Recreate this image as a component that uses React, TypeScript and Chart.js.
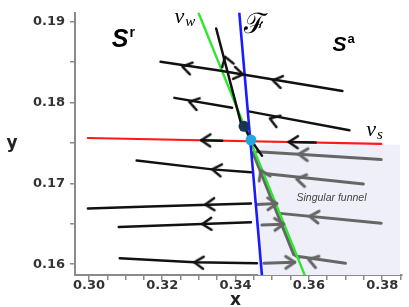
import React, { useEffect, useRef } from "react";
import { Chart, registerables } from "chart.js";

Chart.register(...registerables);

type P = [number, number];

// ---- axes ----
const xRange: P = [0.2962, 0.3854];
const yRange: P = [0.15867, 0.19109];
const tickStep = 0.005;
const xTickLabels = ["0.30", "0.32", "0.34", "0.36", "0.38"];
const yTickLabels = ["0.16", "0.17", "0.18", "0.19"];
const xTitle = "x";
const yTitle = "y";

// ---- nullclines / fold ----
const vsCurve: P[] = [[0.2997, 0.17561], [0.37973, 0.17488]];
const vwCurve: P[] = [[0.32956, 0.19145], [0.35885, 0.15867]];
const foldCurve: P[] = [[0.34095, 0.19145], [0.34719, 0.15867]];

// ---- singular funnel region ----
const funnelRegion: P[] = [[0.3461, 0.17476], [0.38488, 0.17476]];

// ---- black trajectories ----
const blackUp: P[] = [[0.33471, 0.18915], [0.34149, 0.17742], [0.34231, 0.17706], [0.3442, 0.17536], [0.34719, 0.17343]];
const traj1: P[] = [[0.31953, 0.18504], [0.33553, 0.18395], [0.34203, 0.18347], [0.36915, 0.18141]];
const traj2a: P[] = [[0.32332, 0.18057], [0.33905, 0.17936]];
const traj2b: P[] = [[0.34393, 0.17887], [0.37105, 0.17657]];
const traj3: P[] = [[0.31302, 0.17282], [0.33363, 0.17173], [0.3442, 0.17137]];
const traj4: P[] = [[0.29973, 0.1669], [0.31654, 0.16714], [0.3442, 0.1675]];
const traj5: P[] = [[0.30814, 0.1646], [0.3442, 0.1652]];
const traj6: P[] = [[0.30841, 0.16073], [0.32875, 0.16024], [0.34583, 0.16012]];
const vsSeg1: P[] = [[0.33064, 0.17533], [0.33634, 0.17528]];
const vsSeg2: P[] = [[0.35451, 0.17511], [0.36183, 0.17504]];

// ---- grey trajectories (funnel) ----
const funnelPath: P[] = [[0.34475, 0.17379], [0.35586, 0.16121], [0.35722, 0.16085]];
const grey1: P[] = [[0.34583, 0.17391], [0.35722, 0.17361], [0.37973, 0.17294]];
const grey2: P[] = [[0.34719, 0.17125], [0.37485, 0.16992]];
const grey3: P[] = [[0.35207, 0.16629], [0.37973, 0.16508]];
const grey4: P[] = [[0.35722, 0.16097], [0.36997, 0.16012]];
const greyA: P[] = [[0.34583, 0.16738], [0.35125, 0.1675]];
const greyB: P[] = [[0.34719, 0.16484], [0.35315, 0.16496]];
const greyC: P[] = [[0.34773, 0.16012], [0.35614, 0.16024]];

// ---- arrow heads: [x, y, towardX, towardY] ----
const blackArrows: number[][] = [
  [0.32549, 0.18444, 0.31953, 0.18504],
  [0.34203, 0.18347, 0.36915, 0.18141],
  [0.35017, 0.18274, 0.34203, 0.18347],
  [0.32739, 0.18008, 0.32332, 0.18057],
  [0.34936, 0.17802, 0.34393, 0.17887],
  [0.33064, 0.17533, 0.2997, 0.17561],
  [0.35451, 0.17511, 0.2997, 0.17561],
  [0.33363, 0.17173, 0.31302, 0.17282],
  [0.33173, 0.16738, 0.29973, 0.1669],
  [0.33092, 0.16496, 0.30814, 0.1646],
  [0.32875, 0.16024, 0.30841, 0.16073],
  [0.33715, 0.18565, 0.33471, 0.18915],
];
const greyArrows: number[][] = [
  [0.35722, 0.17361, 0.34583, 0.17391],
  [0.35668, 0.17052, 0.34719, 0.17125],
  [0.3602, 0.16593, 0.35207, 0.16629],
  [0.35993, 0.1606, 0.35722, 0.16097],
  [0.34692, 0.17161, 0.34475, 0.17379],
  [0.35125, 0.1675, 0.36, 0.1676],
  [0.35315, 0.16496, 0.36, 0.16505],
  [0.35614, 0.16024, 0.37, 0.1603],
];

// ---- special points ----
const darkPoint: P = [0.34231, 0.17706];
const cyanPoint: P = [0.3442, 0.17536];

// ---- annotations ----
const labelSr: P = [0.30624, 0.18686];
const labelSa: P = [0.36644, 0.18637];
const labelVw: P = [0.32332, 0.18988];
const labelVs: P = [0.37566, 0.17585];
const labelF: P = [0.34231, 0.18855];
const labelFunnel: P = [0.36617, 0.16823];
const funnelText = "Singular funnel";

function makeChevron(color: string, lw: number): HTMLCanvasElement {
  const c = document.createElement("canvas");
  c.width = 26;
  c.height = 26;
  const g = c.getContext("2d")!;
  g.strokeStyle = color;
  g.lineWidth = lw;
  g.lineCap = "round";
  g.lineJoin = "round";
  g.beginPath();
  g.moveTo(4, 7);
  g.lineTo(13, 13);
  g.lineTo(4, 19);
  g.stroke();
  return c;
}

const toXY = (pts: P[]) => pts.map(([x, y]) => ({ x, y }));

function lineSet(pts: P[], color: string, width: number, order: number) {
  return {
    data: toXY(pts),
    showLine: true,
    borderColor: color,
    backgroundColor: color,
    borderWidth: width,
    pointRadius: 0,
    pointHoverRadius: 0,
    fill: false,
    tension: 0,
    borderCapStyle: "round",
    borderJoinStyle: "round",
    order,
  };
}

function arrowSet(arrs: number[][], img: HTMLCanvasElement, order: number) {
  return {
    data: arrs.map((a) => ({ x: a[0], y: a[1] })),
    showLine: false,
    pointStyle: img,
    pointRadius: 6,
    pointHoverRadius: 6,
    rotation: (ctx: any) => {
      const a = arrs[ctx.dataIndex];
      if (!a) return 0;
      const sx = ctx.chart.scales.x;
      const sy = ctx.chart.scales.y;
      const dx = sx.getPixelForValue(a[2]) - sx.getPixelForValue(a[0]);
      const dy = sy.getPixelForValue(a[3]) - sy.getPixelForValue(a[1]);
      return (Math.atan2(dy, dx) * 180) / Math.PI;
    },
    order,
  };
}

const findLabel = (labels: string[], v: number) =>
  labels.find((l) => Math.abs(parseFloat(l) - v) < 1e-6) ?? "";

const textPlugin = {
  id: "texts",
  afterDatasetsDraw(chart: any) {
    const { ctx, chartArea } = chart;
    const sx = chart.scales.x;
    const sy = chart.scales.y;
    const px = (p: P) => [sx.getPixelForValue(p[0]), sy.getPixelForValue(p[1])];
    ctx.save();
    ctx.textBaseline = "alphabetic";
    ctx.textAlign = "left";
    ctx.fillStyle = "#000";

    const sup = (p: P, main: string, s: string, f1: string, f2: string, dy: number) => {
      const [x, y] = px(p);
      ctx.font = f1;
      ctx.fillText(main, x, y);
      const w = ctx.measureText(main).width;
      ctx.font = f2;
      ctx.fillText(s, x + w + 1, y + dy);
    };
    sup(labelSr, "S", "r", 'bold italic 25px "Liberation Sans"', 'bold 14px "Liberation Sans"', -10);
    sup(labelSa, "S", "a", 'bold italic 21px "Liberation Sans"', 'bold 13px "Liberation Sans"', -8);
    sup(labelVw, "v", "w", 'italic 22px "Liberation Serif"', 'italic 15px "Liberation Serif"', 3);
    sup(labelVs, "v", "s", 'italic 22px "Liberation Serif"', 'italic 15px "Liberation Serif"', 3);

    const [fx, fy] = px(labelF);
    ctx.font = '28px "DejaVu Serif"';
    ctx.fillText("\u2131", fx, fy);

    const [tx, ty] = px(labelFunnel);
    ctx.font = 'italic 10.5px "Liberation Sans"';
    ctx.fillStyle = "#444";
    ctx.textAlign = "center";
    ctx.textBaseline = "middle";
    ctx.fillText(funnelText, tx, ty);

    ctx.fillStyle = "#222";
    ctx.font = 'bold 17px "DejaVu Sans"';
    ctx.fillText(yTitle, chartArea.left - 63, (chartArea.top + chartArea.bottom) / 2);
    ctx.fillText(xTitle, (chartArea.left + chartArea.right) / 2 - 3, chartArea.bottom + 26);
    ctx.restore();
  },
};

export default function App() {
  const ref = useRef<HTMLCanvasElement | null>(null);

  useEffect(() => {
    document.body.style.margin = "0";
    const canvas = ref.current;
    if (!canvas) return;
    const blackChev = makeChevron("#111", 2.6);
    const greyChev = makeChevron("#666", 3);

    const black = "#111";
    const grey = "#666";
    const datasets: any[] = [
      {
        data: toXY(funnelRegion),
        showLine: true,
        borderWidth: 0,
        borderColor: "rgba(0,0,0,0)",
        backgroundColor: "#efeffa",
        fill: "start",
        pointRadius: 0,
        order: 100,
      },
      lineSet(vsCurve, "#ff1a1a", 2.2, 90),
      lineSet(funnelPath, grey, 3.2, 80),
      lineSet(grey1, grey, 3, 80),
      lineSet(grey2, grey, 3, 80),
      lineSet(grey3, grey, 3, 80),
      lineSet(grey4, grey, 3, 80),
      lineSet(greyA, grey, 3, 80),
      lineSet(greyB, grey, 3, 80),
      lineSet(greyC, grey, 3, 80),
      lineSet(vwCurve, "#2ee82e", 2.4, 70),
      lineSet(foldCurve, "#1a1aff", 2.6, 60),
      lineSet(blackUp, black, 2.5, 50),
      lineSet(traj1, black, 2.5, 50),
      lineSet(traj2a, black, 2.5, 50),
      lineSet(traj2b, black, 2.5, 50),
      lineSet(traj3, black, 2.5, 50),
      lineSet(traj4, black, 2.5, 50),
      lineSet(traj5, black, 2.5, 50),
      lineSet(traj6, black, 2.5, 50),
      lineSet(vsSeg1, black, 2.5, 50),
      lineSet(vsSeg2, black, 2.5, 50),
      arrowSet(greyArrows, greyChev, 40),
      arrowSet(blackArrows, blackChev, 30),
      {
        data: toXY([darkPoint]),
        showLine: false,
        pointRadius: 5.5,
        pointBackgroundColor: "#173456",
        pointBorderWidth: 0,
        order: 10,
      },
      {
        data: toXY([cyanPoint]),
        showLine: false,
        pointRadius: 5.5,
        pointBackgroundColor: "#22a6dc",
        pointBorderWidth: 0,
        order: 5,
      },
    ];

    const tickFont = { family: '"DejaVu Sans"', size: 13, weight: "bold" as const };
    const chart = new Chart(canvas, {
      type: "scatter",
      data: { datasets },
      options: {
        animation: false,
        responsive: false,
        maintainAspectRatio: false,
        devicePixelRatio: 1,
        events: [],
        layout: { padding: { left: 0, top: 7, right: 5, bottom: 0 } },
        plugins: { legend: { display: false }, tooltip: { enabled: false } },
        scales: {
          x: {
            type: "linear",
            min: xRange[0],
            max: xRange[1],
            ticks: {
              stepSize: tickStep,
              includeBounds: false,
              autoSkip: false,
              maxRotation: 0,
              minRotation: 0,
              maxTicksLimit: 100,
              padding: -2,
              color: "#333",
              font: tickFont,
              callback: (v: any) => findLabel(xTickLabels, Number(v)),
            },
            grid: { drawOnChartArea: false, drawTicks: true, tickLength: 5, color: "#8a8a8a", lineWidth: 1.5 },
            border: { display: true, color: "#8a8a8a", width: 2 },
            afterFit: (s: any) => {
              s.height = 32;
            },
          },
          y: {
            type: "linear",
            min: yRange[0],
            max: yRange[1],
            ticks: {
              stepSize: tickStep,
              includeBounds: false,
              autoSkip: false,
              maxTicksLimit: 100,
              padding: 5,
              color: "#333",
              font: tickFont,
              callback: (v: any) => findLabel(yTickLabels, Number(v)),
            },
            grid: { drawOnChartArea: false, drawTicks: true, tickLength: 5, color: "#8a8a8a", lineWidth: 1.5 },
            border: { display: true, color: "#8a8a8a", width: 2 },
            afterFit: (s: any) => {
              s.width = 75;
            },
          },
        },
      } as any,
      plugins: [textPlugin],
    });
    return () => chart.destroy();
  }, []);

  return (
    <div style={{ width: 409, height: 307, background: "#fff" }}>
      <canvas ref={ref} width={409} height={307} style={{ display: "block" }} />
    </div>
  );
}
